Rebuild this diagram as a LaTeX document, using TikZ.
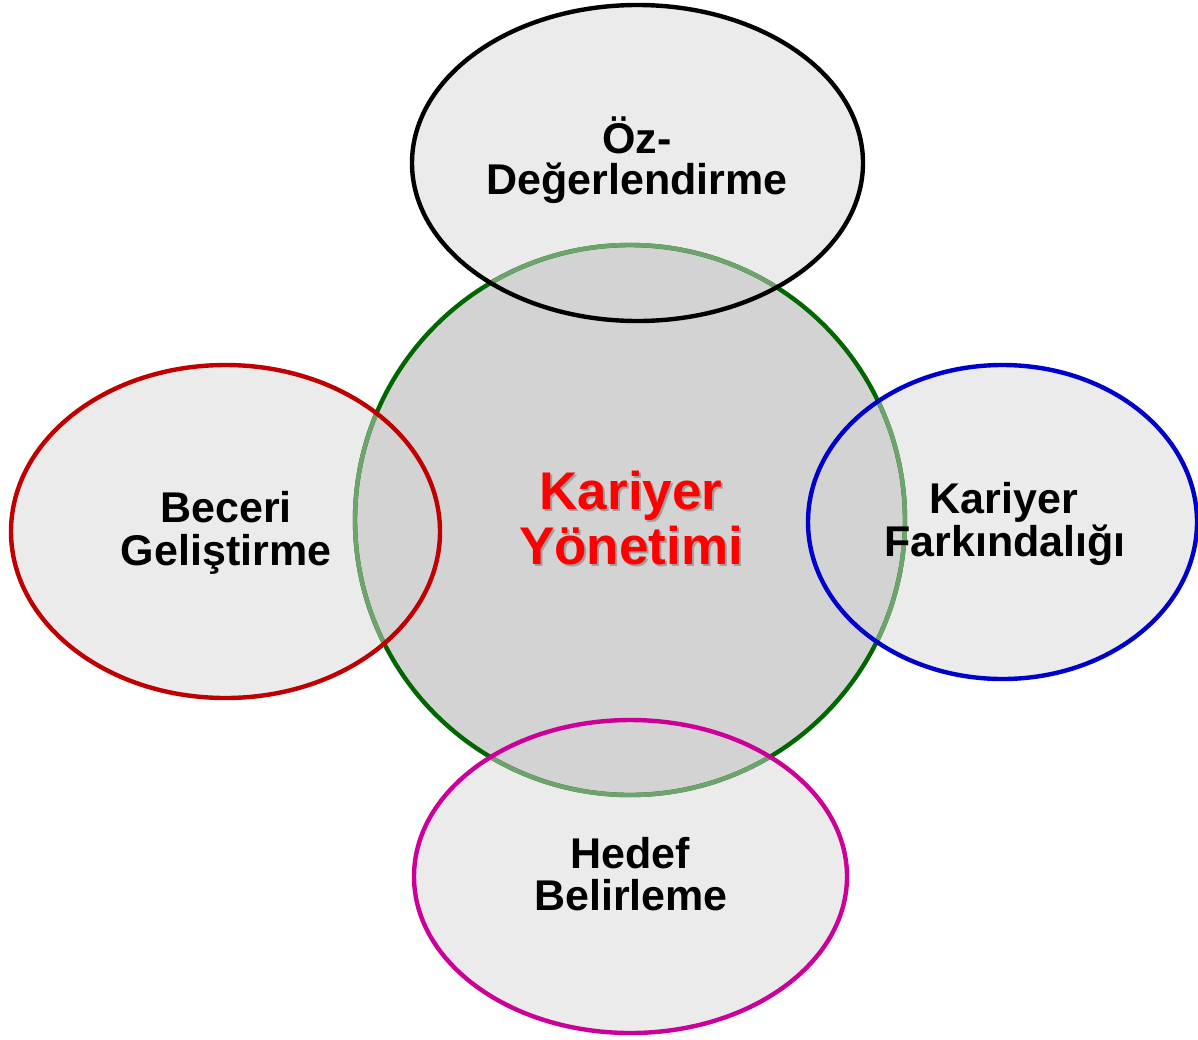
\documentclass[tikz,border=0pt]{standalone}
\usepackage{fontspec}
\setmainfont{Liberation Sans}
\definecolor{efill}{HTML}{EBEBEB}
\definecolor{cfill}{HTML}{D3D3D3}
\definecolor{cgreen}{HTML}{006600}
\definecolor{lgreen}{HTML}{6EA36E}
\definecolor{ered}{HTML}{C00000}
\definecolor{eblue}{HTML}{0000CC}
\definecolor{emag}{HTML}{CC0099}
\definecolor{tred}{HTML}{FF0000}
\definecolor{shadowc}{HTML}{8A8A8A}
\begin{document}
\begin{tikzpicture}[x=1pt,y=-1pt,
  ring/.style={line width=4.4pt},
  lbl/.style={inner sep=0pt,anchor=base,font=\fontsize{43}{45}\selectfont\bfseries},
  rlbl/.style={inner sep=0pt,anchor=base,font=\fontsize{53}{57}\selectfont\bfseries}]
\useasboundingbox (0,0) rectangle (1198,1039);
\coordinate (C) at (630,520);
\coordinate (T) at (637.5,163);
\coordinate (L) at (225.5,531.5);
\coordinate (R) at (1002.5,522);
\coordinate (B) at (630.5,876.5);
\def\topE{(T) ellipse [x radius=225.5,y radius=158]}
\def\leftE{(L) ellipse [x radius=214.5,y radius=166.5]}
\def\rightE{(R) ellipse [x radius=194.5,y radius=157]}
\def\botE{(B) ellipse [x radius=216.5,y radius=156.5]}
% fills
\fill[efill] \topE;
\fill[efill] \leftE;
\fill[efill] \rightE;
\fill[efill] \botE;
\fill[cfill] (C) circle [radius=275];
\draw[ring,cgreen] (C) circle [radius=275];
\foreach \e in {\topE,\leftE,\rightE,\botE}{
  \begin{scope}
    \clip \e;
    \draw[ring,lgreen] (C) circle [radius=275];
  \end{scope}
}
\draw[ring,black] \topE;
\draw[ring,ered] \leftE;
\draw[ring,eblue] \rightE;
\draw[ring,emag] \botE;
% labels
\node[lbl] (t1) at (637,153) {Öz-};
\node[lbl] (t2) at (637,194) {Değerlendirme};
\node[lbl] (l1) at (226,522) {Beceri};
\node[lbl] (l2) at (226,565) {Geliştirme};
\node[lbl] (r1) at (1004,513) {Kariyer};
\node[lbl] (r2) at (1005,556) {Farkındalığı};
\node[lbl] (b1) at (630,868) {Hedef};
\node[lbl] (b2) at (631,910) {Belirleme};
\node[rlbl,text=shadowc,opacity=0.7] (c1s) at (633,511) {Kariyer};
\node[rlbl,text=shadowc,opacity=0.7] (c2s) at (633,566) {Yönetimi};
\node[rlbl,text=tred] (c1) at (631,509) {Kariyer};
\node[rlbl,text=tred] (c2) at (631,564) {Yönetimi};
\end{tikzpicture}
\end{document}
